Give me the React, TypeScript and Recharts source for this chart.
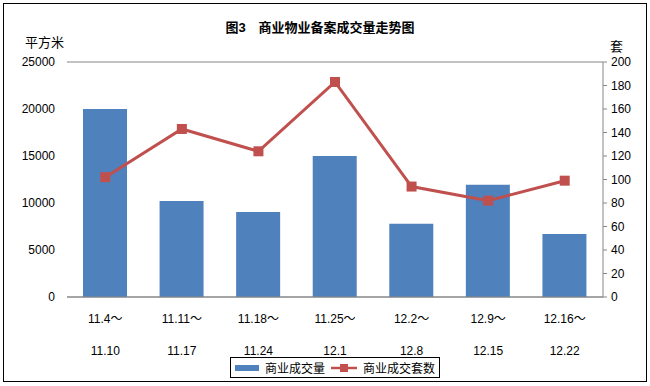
import { Bar, CartesianGrid, ComposedChart, Legend, Line, XAxis, YAxis } from "recharts"

const weekStarts = ["11.4～", "11.11～", "11.18～", "11.25～", "12.2～", "12.9～", "12.16～"]
const weekEnds = ["11.10", "11.17", "11.24", "12.1", "12.8", "12.15", "12.22"]
const areaSold = [20000, 10200, 9050, 15000, 7800, 11950, 6700]
const unitsSold = [102, 143, 124, 183, 94, 82, 99]
const leftTicks = [0, 5000, 10000, 15000, 20000, 25000]
const rightTicks = [0, 20, 40, 60, 80, 100, 120, 140, 160, 180, 200]

const data = weekStarts.map((start, i) => ({
  week: start,
  end: weekEnds[i],
  area: areaSold[i],
  units: unitsSold[i],
}))

const BLUE = "#4f81bd"
const RED = "#c0504d"
const AXIS = "#868686"
const FONT = "'Liberation Sans', 'Noto Sans CJK SC', sans-serif"

const WeekTick = (props: any) => {
  const { x, y, payload, index } = props
  return (
    <g>
      <text x={x} y={y + 18} textAnchor="middle" fontSize={12} fill="#000" fontFamily={FONT}>
        {payload.value}
      </text>
      <text x={x} y={y + 50} textAnchor="middle" fontSize={12} fill="#000" fontFamily={FONT}>
        {weekEnds[index]}
      </text>
    </g>
  )
}

const SquareDot = (props: any) => {
  const { cx, cy } = props
  if (cx == null || cy == null) return null
  return <rect x={cx - 5} y={cy - 5} width={10} height={10} fill={RED} />
}

const LegendBox = () => (
  <div
    style={{
      border: "1px solid #000",
      display: "flex",
      alignItems: "center",
      gap: 6,
      padding: "1px 4px",
      fontSize: 12,
      fontFamily: FONT,
      background: "#fff",
      height: 21,
      boxSizing: "border-box",
    }}
  >
    <span style={{ display: "inline-block", width: 24, height: 6, background: BLUE }} />
    <span>商业成交量</span>
    <svg width={26} height={10}>
      <line x1={0} y1={5} x2={26} y2={5} stroke={RED} strokeWidth={2.5} />
      <rect x={9} y={1} width={8} height={8} fill={RED} />
    </svg>
    <span>商业成交套数</span>
  </div>
)

export default function App() {
  return (
    <div style={{ position: "absolute", left: 0, top: 0, width: 650, height: 386, background: "#fff", fontFamily: FONT }}>
      <div
        style={{
          position: "absolute",
          left: 3,
          top: 3,
          width: 642,
          height: 377,
          border: "1px solid #000",
        }}
      />
      <div
        style={{
          position: "absolute",
          left: 0,
          width: 640,
          top: 17,
          textAlign: "center",
          fontSize: 13,
          fontWeight: "bold",
        }}
      >
        图3　商业物业备案成交量走势图
      </div>
      <div style={{ position: "absolute", left: 25, top: 32, fontSize: 13 }}>平方米</div>
      <div style={{ position: "absolute", left: 610, top: 36, fontSize: 13 }}>套</div>
      <ComposedChart
        width={650}
        height={386}
        data={data}
        margin={{ top: 62, right: 0, bottom: 6, left: 7 }}
        style={{ position: "absolute", left: 0, top: 0 }}
      >
        <CartesianGrid vertical={false} stroke={AXIS} />
        <XAxis
          dataKey="week"
          axisLine={{ stroke: AXIS }}
          tickLine={false}
          height={50}
          interval={0}
          tick={<WeekTick />}
        />
        <YAxis
          yAxisId="left"
          domain={[0, 25000]}
          ticks={leftTicks}
          width={60}
          axisLine={false}
          tickLine={false}
          tickSize={6}
          tickMargin={6}
          tick={{ fontSize: 12, fill: "#000", fontFamily: FONT }}
        />
        <YAxis
          yAxisId="right"
          orientation="right"
          domain={[0, 200]}
          ticks={rightTicks}
          width={47}
          axisLine={{ stroke: AXIS }}
          tickLine={{ stroke: AXIS }}
          tickSize={4}
          tickMargin={4}
          tick={{ fontSize: 12, fill: "#000", fontFamily: FONT }}
        />
        <Legend
          verticalAlign="bottom"
          height={33}
          content={<LegendBox />}
          wrapperStyle={{ width: "auto", left: 230, top: 357, bottom: "auto" }}
        />
        <Bar yAxisId="left" dataKey="area" name="商业成交量" fill={BLUE} barSize={44} isAnimationActive={false} />
        <Line
          yAxisId="right"
          dataKey="units"
          name="商业成交套数"
          stroke={RED}
          strokeWidth={3}
          dot={<SquareDot />}
          activeDot={false}
          isAnimationActive={false}
        />
      </ComposedChart>
    </div>
  )
}
